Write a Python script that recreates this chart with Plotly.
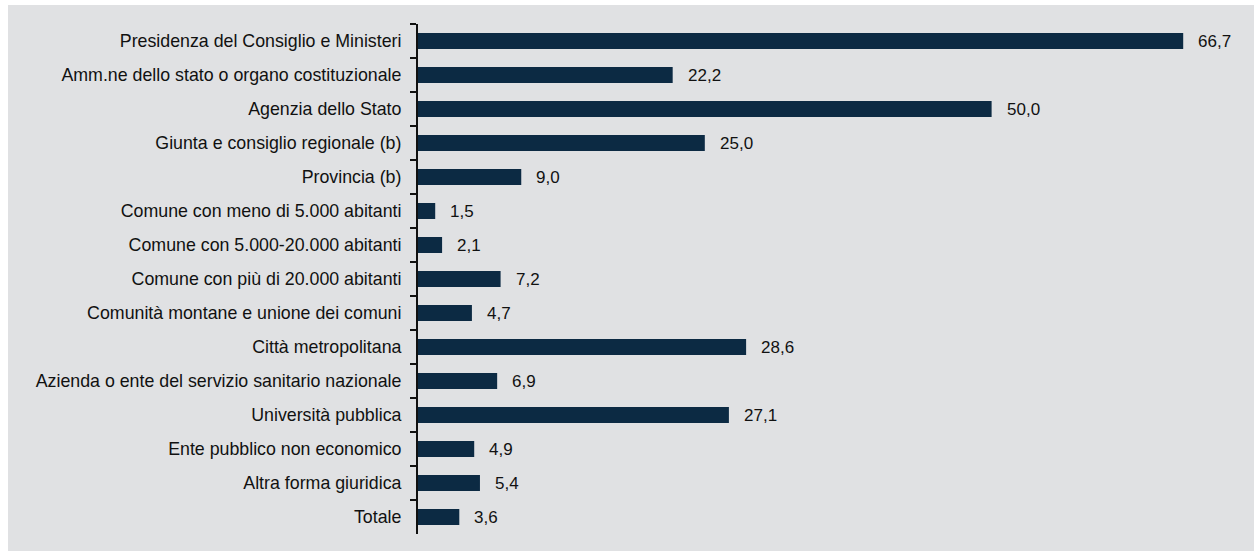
import plotly.graph_objects as go

categories = [
    "Presidenza del Consiglio e Ministeri",
    "Amm.ne dello stato o organo costituzionale",
    "Agenzia dello Stato",
    "Giunta e consiglio regionale (b)",
    "Provincia (b)",
    "Comune con meno di 5.000 abitanti",
    "Comune con 5.000-20.000 abitanti",
    "Comune con più di 20.000 abitanti",
    "Comunità montane e unione dei comuni",
    "Città metropolitana",
    "Azienda o ente del servizio sanitario nazionale",
    "Università pubblica",
    "Ente pubblico non economico",
    "Altra forma giuridica",
    "Totale",
]
values = [66.7, 22.2, 50.0, 25.0, 9.0, 1.5, 2.1, 7.2, 4.7, 28.6, 6.9, 27.1, 4.9, 5.4, 3.6]
labels = [f"{v:.1f}".replace(".", ",") for v in values]

W, H = 1254, 551
L, R, T, B = 418, 10, 24, 17
pw = W - L - R
ph = H - T - B
FONT = "Liberation Sans, Arial, sans-serif"

fig = go.Figure()
fig.add_trace(go.Bar(
    y=categories, x=values, orientation="h",
    marker=dict(color="#0c2a43", line=dict(width=0)),
    width=0.47, showlegend=False, hoverinfo="skip",
))
for c, v, t in zip(categories, values, labels):
    fig.add_annotation(x=v, y=c, text=t, showarrow=False, xanchor="left",
                       xshift=13, font=dict(size=17, color="#111111", family=FONT))

# gray background panel (pixel-based conversion to paper coords)
x0 = (8 - L) / pw
x1 = (W - L) / pw
y0 = (ph + T - H) / ph
y1 = (ph + T - 5) / ph
fig.add_shape(type="rect", xref="paper", yref="paper", x0=x0, x1=x1, y0=y0, y1=y1,
              fillcolor="#e0e1e3", line=dict(width=0), layer="below")

fig.update_layout(
    width=W, height=H,
    margin=dict(l=L, r=R, t=T, b=B),
    paper_bgcolor="white",
    plot_bgcolor="rgba(0,0,0,0)",
    font=dict(family=FONT, size=17.8, color="#111111"),
    bargap=0.5,
)
fig.update_xaxes(range=[0, 72], visible=False, fixedrange=True)
fig.update_yaxes(
    autorange="reversed", showline=True, linecolor="#111111", linewidth=2,
    ticks="outside", ticklen=6, tickwidth=2, tickcolor="#111111",
    tickson="boundaries", showgrid=False, ticklabelstandoff=11,
    tickfont=dict(size=17.8, family=FONT, color="#111111"),
)

fig.write_html("out.html")
